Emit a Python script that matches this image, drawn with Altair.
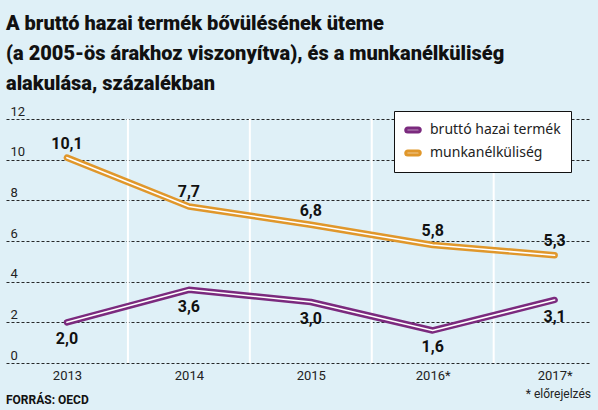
import altair as alt
import pandas as pd

# Chart values
years = ["2013", "2014", "2015", "2016*", "2017*"]
gdp = [2.0, 3.6, 3.0, 1.6, 3.1]
unemployment = [10.1, 7.7, 6.8, 5.8, 5.3]
series_names = ["bruttó hazai termék", "munkanélküliség"]
y_ticks = [0, 2, 4, 6, 8, 10, 12]

BG = "#dff0f7"
PURPLE = "#7b2a7e"
ORANGE = "#e0972b"
NARROW = "Roboto"

rows = []
for i, yr in enumerate(years):
    rows.append({"idx": i, "year": yr, "series": series_names[0], "value": gdp[i]})
    rows.append({"idx": i, "year": yr, "series": series_names[1], "value": unemployment[i]})
df = pd.DataFrame(rows)

x_scale = alt.Scale(domain=[-0.5, 4.29], nice=False, zero=False)
y_scale = alt.Scale(domain=[0, 12], nice=False)
color_scale = alt.Scale(domain=series_names, range=[PURPLE, ORANGE])

pill = ("M-0.72,-0.27 L0.72,-0.27 A0.27,0.27 0 0 1 0.72,0.27 "
        "L-0.72,0.27 A0.27,0.27 0 0 1 -0.72,-0.27 Z")

base = alt.Chart(df)

# Gridlines and y labels live on the y axis; year labels on the x axis
x_enc = alt.X(
    "idx:Q", scale=x_scale,
    axis=alt.Axis(values=list(range(len(years))), grid=False, domain=False, ticks=False,
                  labelExpr="['2013','2014','2015','2016*','2017*'][datum.value]",
                  labelFont=NARROW, labelFontSize=13, labelColor="#222",
                  labelPadding=6, title=None),
)
y_enc = alt.Y(
    "value:Q", scale=y_scale,
    axis=alt.Axis(values=y_ticks, grid=True, gridColor="#111", gridDash=[3, 2], gridWidth=0.9,
                  domain=False, ticks=False, labelAlign="left", labelBaseline="bottom",
                  labelPadding=-4, labelOffset=-1, labelFont=NARROW, labelFontSize=13,
                  labelColor="#222", title=None),
)

# White separators between the year columns
sep_df = pd.DataFrame({"pos": [0.5, 1.5, 2.5, 3.5]})
separators = alt.Chart(sep_df).mark_rule(color="white", strokeWidth=2).encode(
    x=alt.X("pos:Q", scale=x_scale),
    y=alt.value(0),
    y2=alt.value(244),
)

outer = base.mark_line(strokeWidth=6.5, strokeCap="round", strokeJoin="round").encode(
    x=x_enc,
    y=y_enc,
    color=alt.Color(
        "series:N", scale=color_scale,
        legend=alt.Legend(
            title=None, orient="none", legendX=388, legendY=-8,
            fillColor="white", strokeColor="#111", padding=10,
            labelFont="Noto Sans", labelFontSize=14, labelColor="#222",
            symbolType=pill, symbolSize=210, symbolStrokeWidth=3.2,
            symbolFillColor="white", rowPadding=5, labelOffset=8,
        ),
    ),
    detail="series:N",
)

inner = base.mark_line(strokeWidth=1.6, color="white", strokeCap="round", strokeJoin="round").encode(
    x=alt.X("idx:Q", scale=x_scale),
    y=alt.Y("value:Q", scale=y_scale),
    detail="series:N",
)

label_base = base.transform_calculate(
    lab="replace(format(datum.value, '.1f'), '.', ',')"
)
labels_up = label_base.transform_filter(
    alt.datum.series == series_names[1]
).mark_text(font=NARROW, fontWeight="bold", fontSize=16, color="#111", dy=-14, baseline="middle").encode(
    x=alt.X("idx:Q", scale=x_scale), y=alt.Y("value:Q", scale=y_scale), text="lab:N"
)
labels_down = label_base.transform_filter(
    alt.datum.series == series_names[0]
).mark_text(font=NARROW, fontWeight="bold", fontSize=16, color="#111", dy=17, baseline="middle").encode(
    x=alt.X("idx:Q", scale=x_scale), y=alt.Y("value:Q", scale=y_scale), text="lab:N"
)

notes = pd.DataFrame({"t": ["FORRÁS: OECD"]})
source = alt.Chart(notes).mark_text(
    font=NARROW, fontWeight="bold", fontSize=12, color="#111", align="left", baseline="alphabetic"
).encode(x=alt.value(0), y=alt.value(285), text="t:N")

fc = pd.DataFrame({"t": ["*  előrejelzés"]})
forecast = alt.Chart(fc).mark_text(
    font=NARROW, fontSize=12, color="#222", align="right", baseline="alphabetic"
).encode(x=alt.value(585), y=alt.value(279), text="t:N")

chart = alt.layer(separators, outer, inner, labels_up, labels_down, source, forecast).properties(
    width=584,
    height=244,
    background=BG,
    padding={"left": 6, "top": 119, "right": 8, "bottom": 47},
    autosize=alt.AutoSizeParams(type="none"),
    title=alt.Title(
        ["A bruttó hazai termék bővülésének üteme",
         "(a 2005-ös árakhoz viszonyítva), és a munkanélküliség",
         "alakulása, százalékban"],
        font=NARROW, fontSize=20, fontWeight=900, color="#111",
        anchor="start", frame="group", lineHeight=30, offset=11,
    ),
).configure_view(stroke=None)

chart.save("out.html", embed_options={"renderer": "svg", "actions": False})
